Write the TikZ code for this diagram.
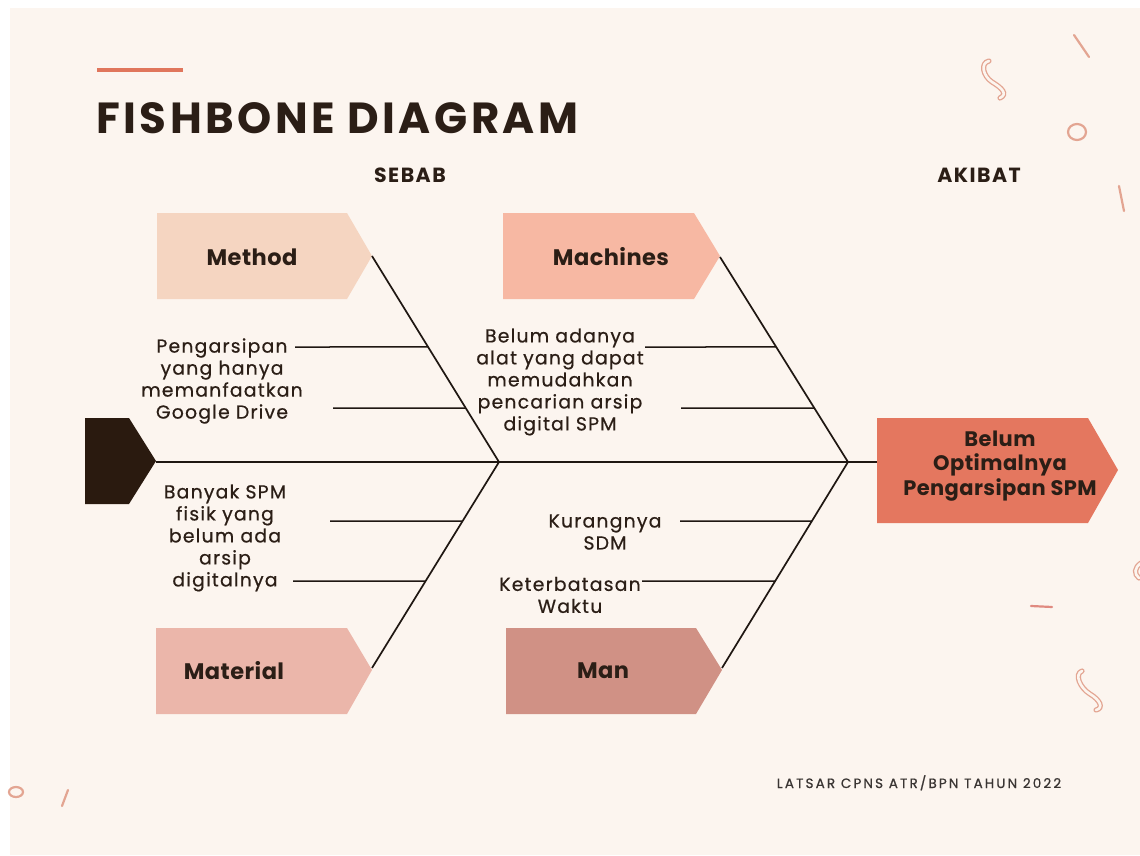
\documentclass[tikz,border=0pt]{standalone}
\usepackage{fontspec}
\usetikzlibrary{calc}
\setmainfont{Poppins}
\newfontfamily\bodyf{Poppins}[LetterSpace=6.5,FakeBold=0.6]
\newfontfamily\labf{Poppins}[LetterSpace=2]
\newfontfamily\headf{Poppins}[LetterSpace=7]
\newfontfamily\titlef{Poppins}[LetterSpace=8]
\newfontfamily\footf{Poppins}[LetterSpace=16,FakeBold=0.8]
\definecolor{bgc}{HTML}{FCF5EF}
\definecolor{methodc}{HTML}{F5D5C1}
\definecolor{machc}{HTML}{F7B8A3}
\definecolor{matc}{HTML}{EBB6AA}
\definecolor{manc}{HTML}{D09185}
\definecolor{effc}{HTML}{E4775F}
\definecolor{tailc}{HTML}{2A1A0F}
\definecolor{linec}{HTML}{1F1712}
\definecolor{textc}{HTML}{2B1E16}
\definecolor{footc}{HTML}{3A3533}
\definecolor{decoc}{HTML}{E3A592}
\definecolor{decor}{HTML}{E08A80}
\definecolor{titlec}{HTML}{E0765C}
\begin{document}
\begin{tikzpicture}[x=1pt,y=-1pt,
  bone/.style={draw=linec,line width=1.7pt},
  sub/.style={draw=linec,line width=1.5pt},
  body/.style={font=\bodyf\fontsize{18.8}{22}\selectfont,text=textc,align=center,inner sep=0pt},
  catlab/.style={font=\labf\bfseries\fontsize{22.5}{26}\selectfont,text=textc,inner sep=0pt},
  headlab/.style={font=\headf\bfseries\fontsize{20.5}{24}\selectfont,text=textc,inner sep=0pt},
  deco/.style={draw=decoc,line width=2.2pt,line cap=round},
  decoo/.style={draw=decoc,double=bgc,double distance=2.6pt,line width=1.3pt,line cap=round}
]
\useasboundingbox (0,0) rectangle (1140,856);
\fill[white] (0,0) rectangle (1140,856);
\fill[bgc] (10,8) rectangle (1140,855);

% decorations
\draw[line width=3.5pt,draw=titlec] (97,70) -- (183,70);
\draw[deco] (1074,35) -- (1089,57);
\draw[deco] (1119,186) -- (1124,211);
\draw[deco] (1077,132) ellipse [x radius=9,y radius=8];
\draw[deco,draw=decor] (1031,606) -- (1052,607);
\draw[deco] (62,806) -- (68,790);
\draw[deco] (16,792) ellipse [x radius=7,y radius=5];
\draw[decoo] (989,61) .. controls (980,63) and (983,76) .. (992,82) .. controls (1002,88) and (1008,94) .. (1000,98);
\draw[decoo] (1082,671) .. controls (1074,674) and (1080,688) .. (1090,694) .. controls (1100,700) and (1104,708) .. (1096,710);
\draw[decoo] (1141,563) .. controls (1134,568) and (1134,574) .. (1139,578);

% title
\node[font=\titlef\bfseries\fontsize{43.5}{48}\selectfont,text=textc,anchor=base west,inner sep=0pt] (title) at (96,134) {FISHBONE DIAGRAM};
\node[headlab,anchor=base] (sebab) at (410,182) {SEBAB};
\node[headlab,anchor=base] (akibat) at (979,182) {AKIBAT};
\node[font=\footf\fontsize{13.5}{15}\selectfont,text=footc,anchor=base,inner sep=0pt] (foot) at (919,788) {LATSAR CPNS ATR/BPN TAHUN 2022};

% category boxes
\fill[methodc] (157,213) -- (347,213) -- (372,256) -- (347,299) -- (157,299) -- cycle;
\fill[machc] (503,213) -- (694,213) -- (720,256) -- (694,299) -- (503,299) -- cycle;
\fill[matc] (156,628) -- (347,628) -- (372,670) -- (347,714) -- (156,714) -- cycle;
\fill[manc] (506,628) -- (696,628) -- (722,670) -- (696,714) -- (506,714) -- cycle;
\node[catlab] (method) at (252,257) {Method};
\node[catlab] (machines) at (611,257) {Machines};
\node[catlab] (material) at (234,671) {Material};
\node[catlab] (man) at (603,671) {Man};

% tail and effect
\fill[tailc] (85,418) -- (129,418) -- (156,461) -- (129,504) -- (85,504) -- cycle;
\coordinate (tailtip) at (156,462);
\fill[effc] (877,418) -- (1088,418) -- (1118,470) -- (1088,523) -- (877,523) -- cycle;
\coordinate (effw) at (877,462);
\node[font=\labf\bfseries\fontsize{21}{24.5}\selectfont,text=textc,align=center,inner sep=0pt] (effect) at (1000,466) {Belum\\Optimalnya\\Pengarsipan SPM};

% bones
\coordinate (methodtip) at (372,256);
\coordinate (machtip) at (720,257);
\coordinate (mattip) at (372,668);
\coordinate (mantip) at (722,668);
\coordinate (j1) at (499,462);
\coordinate (j2) at (848,462);
\draw[bone] (tailtip) -- (effw);
\draw[bone] (methodtip) -- (j1);
\draw[bone] (mattip) -- (j1);
\draw[bone] (machtip) -- (j2);
\draw[bone] (mantip) -- (j2);

% sub-bones
\coordinate (s1) at (295,347);
\coordinate (s2) at (333,408);
\coordinate (s3) at (645,347);
\coordinate (s4) at (681,408);
\coordinate (s5) at (330,521);
\coordinate (s6) at (293,581);
\coordinate (s7) at (680,521);
\coordinate (s8) at (642,581);
\draw[sub] (s1) -- ($(methodtip)!0.4417!(j1)$);
\draw[sub] (s2) -- ($(methodtip)!0.7379!(j1)$);
\draw[sub] (s3) -- ($(machtip)!0.439!(j2)$);
\draw[sub] (s4) -- ($(machtip)!0.7366!(j2)$);
\draw[sub] (s5) -- ($(mattip)!0.7136!(j1)$);
\draw[sub] (s6) -- ($(mattip)!0.4223!(j1)$);
\draw[sub] (s7) -- ($(mantip)!0.7136!(j2)$);
\draw[sub] (s8) -- ($(mantip)!0.4223!(j2)$);

% cause texts
\node[body] (t1) at (222,381) {Pengarsipan\\yang hanya\\memanfaatkan\\Google Drive};
\node[body] (t2) at (560,382) {Belum adanya\\alat yang dapat\\memudahkan\\pencarian arsip\\digital SPM};
\node[body] (t3) at (225,538) {Banyak SPM\\fisik yang\\belum ada\\arsip\\digitalnya};
\node[body] (t4) at (605,532) {Kurangnya\\SDM};
\node[body] (t5) at (570,595) {Keterbatasan\\Waktu};
\end{tikzpicture}
\end{document}
